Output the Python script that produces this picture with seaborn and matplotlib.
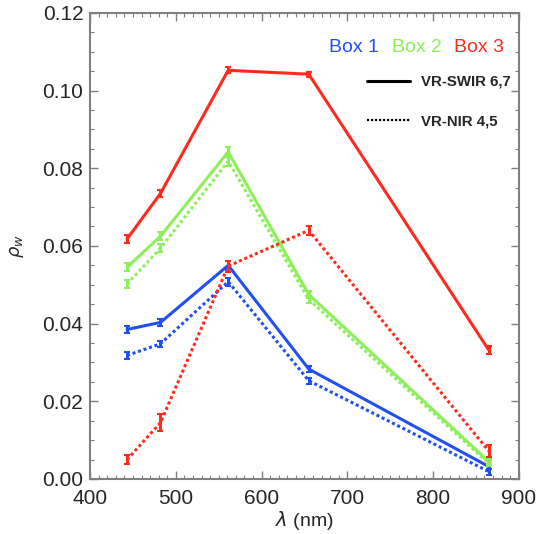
import numpy as np
import pandas as pd
import matplotlib
matplotlib.use("Agg")
import matplotlib.pyplot as plt
from matplotlib.lines import Line2D
from matplotlib.ticker import MultipleLocator, FormatStrFormatter
import seaborn as sns

# Band centre wavelengths (nm)
wavelengths = [443, 482, 561, 655, 865]

# Water-leaving reflectance per box and band pair
box1_swir = [0.0385, 0.0403, 0.0550, 0.0283, 0.0032]
box1_nir = [0.0318, 0.0348, 0.0508, 0.0253, 0.0019]
box2_swir = [0.0545, 0.0625, 0.0842, 0.0475, 0.0045]
box2_nir = [0.0502, 0.0594, 0.0818, 0.0462, 0.0040]
box3_swir = [0.0618, 0.0735, 0.1052, 0.1042, 0.0332]
box3_nir = [0.0050, 0.0145, 0.0548, 0.0640, 0.0072]

# Standard deviations
box1_swir_err = [0.0010, 0.0008, 0.0010, 0.0008, 0.0006]
box1_nir_err = [0.0010, 0.0008, 0.0010, 0.0008, 0.0008]
box2_swir_err = [0.0010, 0.0010, 0.0012, 0.0008, 0.0006]
box2_nir_err = [0.0010, 0.0010, 0.0012, 0.0008, 0.0006]
box3_swir_err = [0.0010, 0.0008, 0.0008, 0.0006, 0.0010]
box3_nir_err = [0.0012, 0.0022, 0.0014, 0.0012, 0.0015]

boxes = ["Box 1", "Box 2", "Box 3"]
sensors = ["VR-SWIR 6,7", "VR-NIR 4,5"]
colors = {"Box 1": "#2150f0", "Box 2": "#8cf05a", "Box 3": "#ff2a1e"}

series = {
    ("Box 1", "VR-SWIR 6,7"): (box1_swir, box1_swir_err),
    ("Box 1", "VR-NIR 4,5"): (box1_nir, box1_nir_err),
    ("Box 2", "VR-SWIR 6,7"): (box2_swir, box2_swir_err),
    ("Box 2", "VR-NIR 4,5"): (box2_nir, box2_nir_err),
    ("Box 3", "VR-SWIR 6,7"): (box3_swir, box3_swir_err),
    ("Box 3", "VR-NIR 4,5"): (box3_nir, box3_nir_err),
}

rows = []
for (box, sensor), (vals, errs) in series.items():
    for w, v, e in zip(wavelengths, vals, errs):
        rows.append({"wavelength": w, "rho": v, "err": e, "box": box, "sensor": sensor})
df = pd.DataFrame(rows)

sns.set_theme(style="ticks")
plt.rcParams["font.family"] = ["Liberation Sans", "DejaVu Sans"]
plt.rcParams["mathtext.fontset"] = "dejavusans"

fig = plt.figure(figsize=(5.37, 5.34), dpi=100)
ax = fig.add_axes([0.168, 0.103, 0.798, 0.873])

sns.lineplot(
    data=df, x="wavelength", y="rho", hue="box", style="sensor",
    palette=colors, hue_order=boxes, style_order=sensors,
    dashes={"VR-SWIR 6,7": "", "VR-NIR 4,5": (1, 0.9)},
    linewidth=2.2, legend=False, ax=ax, estimator=None, sort=False,
)

for (box, sensor), sub in df.groupby(["box", "sensor"]):
    ax.errorbar(sub["wavelength"], sub["rho"], yerr=sub["err"], fmt="none",
                ecolor=colors[box], elinewidth=2.2, capsize=2.5, capthick=1.5)

ax.set_xlim(400, 900)
ax.set_ylim(0.0, 0.12)
ax.xaxis.set_major_locator(MultipleLocator(100))
ax.xaxis.set_minor_locator(MultipleLocator(10))
ax.yaxis.set_major_locator(MultipleLocator(0.02))
ax.yaxis.set_minor_locator(MultipleLocator(0.005))
ax.yaxis.set_major_formatter(FormatStrFormatter("%.2f"))
ax.tick_params(which="both", direction="in", top=True, right=True,
               color="#808080", labelsize=15)
ax.tick_params(axis="y", which="major", pad=5)
ax.tick_params(axis="x", which="major", pad=7)
ax.tick_params(which="major", length=6, width=1.0)
ax.tick_params(which="minor", length=3, width=0.8)
for sp in ax.spines.values():
    sp.set_color("#808080")
    sp.set_linewidth(1.5)

ax.set_xlabel(r"$\lambda$ (nm)", fontsize=14, labelpad=1)
ax.set_ylabel(r"$\rho_w$", fontsize=13, labelpad=12)

# Coloured box names across the top right
x_txt = 0.966
for box in reversed(boxes):
    t = ax.text(x_txt, 0.916, box, color=colors[box], fontsize=14,
                ha="right", va="baseline", transform=ax.transAxes)
    fig.canvas.draw()
    bb = t.get_window_extent().transformed(ax.transAxes.inverted())
    x_txt = bb.x0 - 0.03

handles = [Line2D([], [], color="black", lw=2.2, linestyle="-"),
           Line2D([], [], color="black", lw=1.6, linestyle=(0, (1, 0.8)))]
leg = ax.legend(handles, sensors, loc="upper right", bbox_to_anchor=(1.012, 0.896),
                frameon=False, fontsize=10.8, handlelength=2.9, handletextpad=0.7,
                labelspacing=1.7)
for t in leg.get_texts():
    t.set_fontweight("bold")

fig.savefig("out.png", dpi=100)
